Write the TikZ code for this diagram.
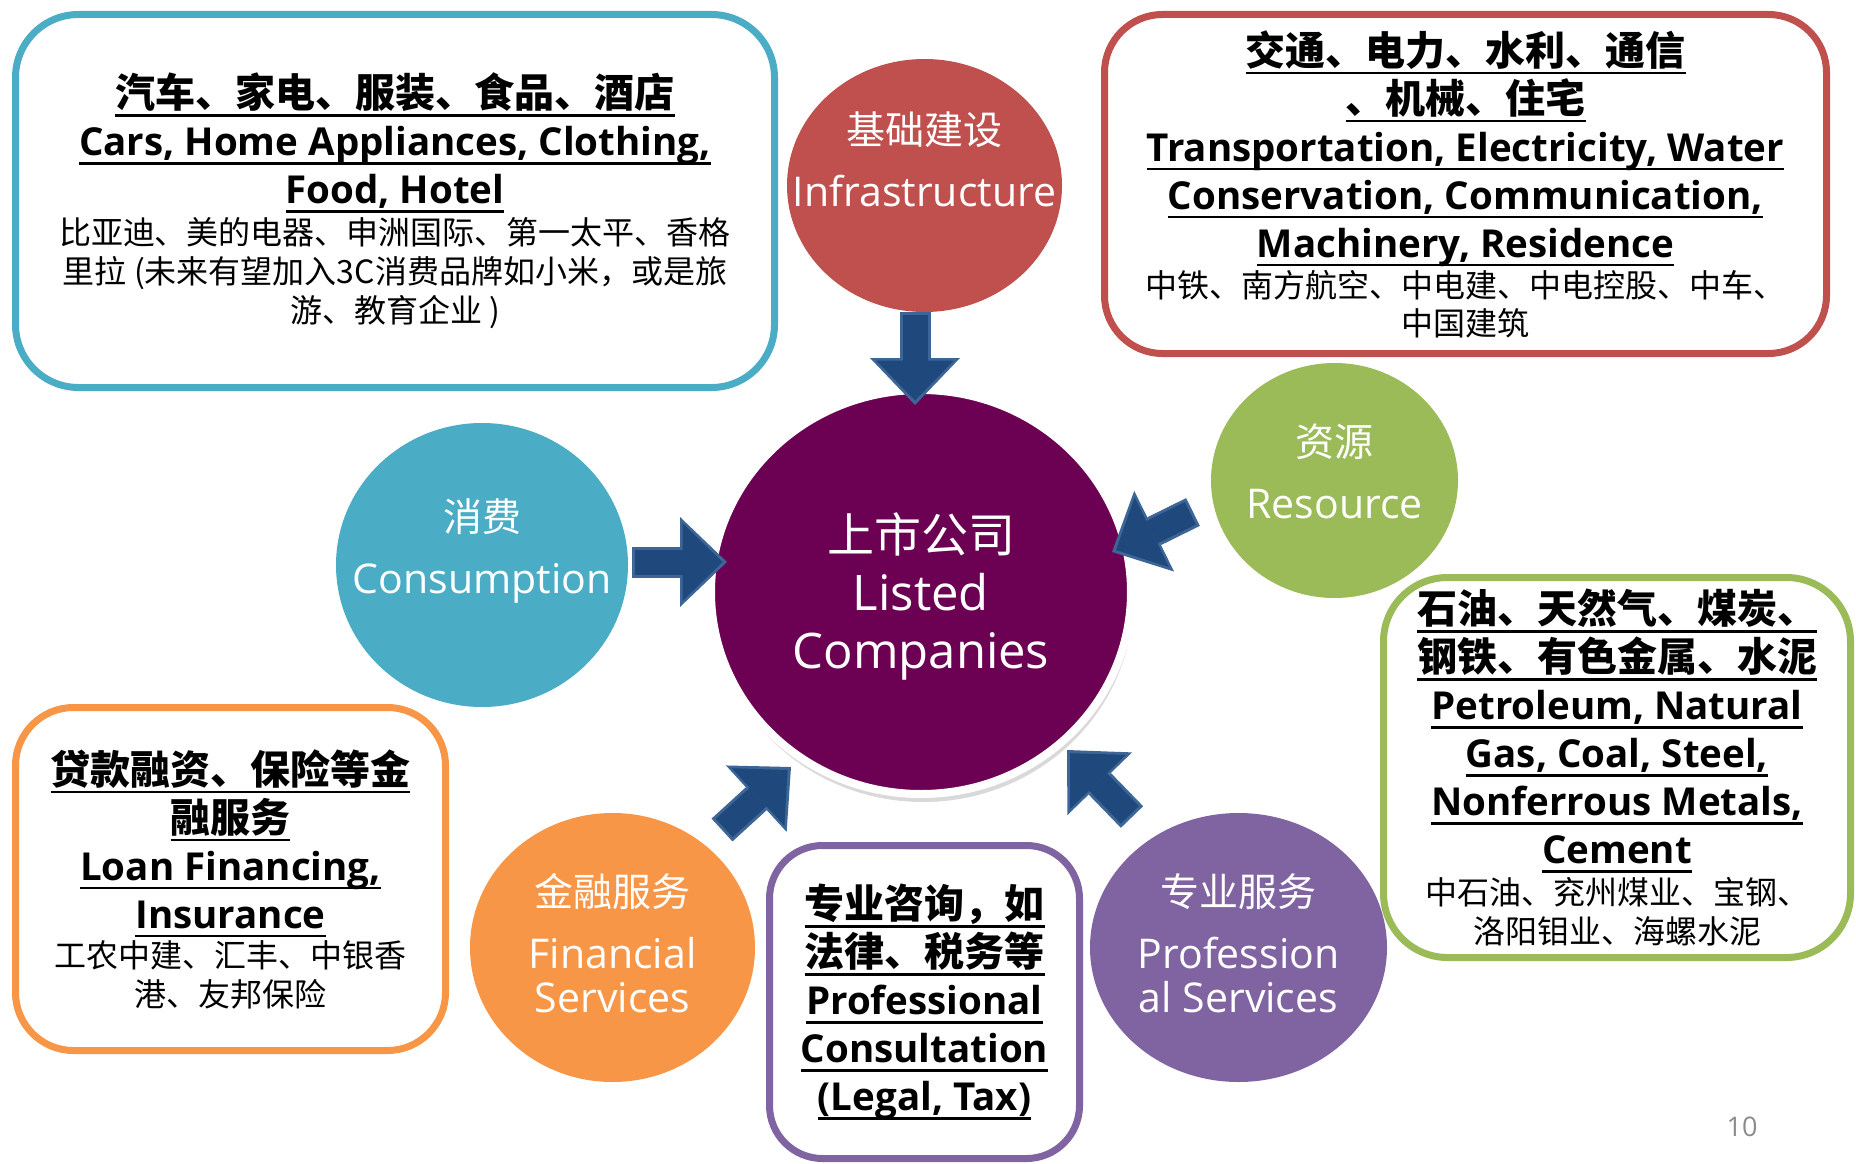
\documentclass[tikz,border=0pt]{standalone}
\usepackage{fontspec}
\setmainfont{Open Sans}
\newfontfamily\cjk{Noto Sans CJK SC}
\usetikzlibrary{shapes.geometric,shadows,arrows.meta}

\definecolor{consblue}{HTML}{4BACC6}
\definecolor{infrared}{HTML}{C0504D}
\definecolor{resgreen}{HTML}{9BBB59}
\definecolor{finorange}{HTML}{F79646}
\definecolor{profpurple}{HTML}{8064A2}
\definecolor{corepurple}{HTML}{6C0052}
\definecolor{arrowfill}{HTML}{1F497D}
\definecolor{arrowrim}{HTML}{3D6696}
\definecolor{pagegray}{HTML}{8C8C8C}

% one underlined line
\newcommand\ulrule[1]{\setbox0=\hbox{#1}\leavevmode\rlap{\rule[-9pt]{\wd0}{2.3pt}}\box0}
\newcommand\cnhead[1]{\ulrule{\cjk\bfseries #1}}
\newcommand\enhead[1]{\ulrule{\fontsize{38.5}{48}\selectfont\bfseries #1}}
\newcommand\cnbody[1]{{\cjk\fontsize{32}{39}\selectfont #1}}
\newcommand\cnlabel[1]{{\cjk\fontsize{39}{47}\selectfont #1}}

\begin{document}
\begin{tikzpicture}[x=1pt, y=-1pt,
    bubble/.style={ellipse, fill=#1, inner sep=0pt},
    bubbletext/.style={text=white, align=center, inner sep=0pt, font=\fontsize{41}{62}\selectfont},
    infobox/.style={draw=#1, line width=7pt, fill=white, align=center, inner sep=0pt,
        font=\fontsize{40}{48}\selectfont},
    arrowedge/.style={draw=arrowrim, line width=31pt,
        -{Triangle[width=90pt,length=47pt,line width=0pt]}},
    arrowbody/.style={draw=arrowfill, line width=25pt, shorten <=3pt, shorten >=4.5pt,
        -{Triangle[width=78pt,length=40pt,line width=0pt]}},
    pagenum/.style={text=pagegray, font=\fontsize{27}{32}\selectfont}]

\path[use as bounding box, fill=white] (0,0) rectangle (1856,1164);

% sectors round the centre
\node[bubble=infrared, minimum width=275pt, minimum height=253pt] (infra) at (924.5,185.5) {};
\node[bubble=consblue, minimum width=292pt, minimum height=284pt] (cons) at (482,565) {};
\node[bubble=resgreen, minimum width=247pt, minimum height=235pt] (res) at (1334.5,480.5) {};
\node[bubble=finorange, minimum width=285pt, minimum height=269pt] (fin) at (612.5,947.5) {};
\node[bubble=profpurple, minimum width=297pt, minimum height=269pt] (prof) at (1238.5,947.5) {};
\node[bubble=corepurple, draw=white, line width=8pt, minimum width=420pt, minimum height=404pt,
    drop shadow={shadow xshift=2pt, shadow yshift=-8pt, opacity=0.15, fill=black}] (core) at (921,592) {};

% detail boxes
\node[infobox=consblue, rounded corners=63pt, minimum width=759pt, minimum height=373pt] (consbox) at (395,201) {
    \cnhead{汽车、家电、服装、食品、酒店}\\
    \enhead{Cars, Home Appliances, Clothing,}\\
    \enhead{Food, Hotel}\\[-7pt]
    \cnbody{比亚迪、美的电器、申洲国际、第一太平、香格}\\[-9pt]
    \cnbody{里拉 (未来有望加入3C消费品牌如小米，或是旅}\\[-9pt]
    \cnbody{游、教育企业 )}};
\node[infobox=infrared, rounded corners=58pt, minimum width=722pt, minimum height=339pt] (infrabox) at (1465.5,184) {
    \cnhead{交通、电力、水利、通信}\\
    \cnhead{、机械、住宅}\\
    \enhead{Transportation, Electricity, Water}\\
    \enhead{Conservation, Communication,}\\
    \enhead{Machinery, Residence}\\[-8pt]
    \cnbody{中铁、南方航空、中电建、中电控股、中车、}\\[-10pt]
    \cnbody{中国建筑}};
\node[infobox=resgreen, rounded corners=64pt, minimum width=467pt, minimum height=380pt] (resbox) at (1617,767.5) {
    \cnhead{石油、天然气、煤炭、}\\
    \cnhead{钢铁、有色金属、水泥}\\
    \enhead{Petroleum, Natural}\\
    \enhead{Gas, Coal, Steel,}\\
    \enhead{Nonferrous Metals,}\\
    \enhead{Cement}\\[-7pt]
    \cnbody{中石油、兖州煤业、宝钢、}\\[-9pt]
    \cnbody{洛阳钼业、海螺水泥}};
\node[infobox=finorange, rounded corners=58pt, minimum width=430pt, minimum height=343pt] (finbox) at (230.5,879) {
    \cnhead{贷款融资、保险等金}\\
    \cnhead{融服务}\\
    \enhead{Loan Financing,}\\
    \enhead{Insurance}\\[-9pt]
    \cnbody{工农中建、汇丰、中银香}\\[-9pt]
    \cnbody{港、友邦保险}};
\node[infobox=profpurple, rounded corners=53pt, minimum width=310pt, minimum height=313pt] (profbox) at (924.5,1002) {
    \cnhead{专业咨询，如}\\
    \cnhead{法律、税务等}\\
    \enhead{Professional}\\
    \enhead{Consultation}\\
    \enhead{(Legal, Tax)}};

% block arrows into the centre
\coordinate (infra-out) at (915,312);
\coordinate (infra-in) at (915,405);
\coordinate (cons-out) at (632,562);
\coordinate (cons-in) at (727,562);
\coordinate (res-out) at (1193,512);
\coordinate (res-in) at (1112,552);
\coordinate (fin-out) at (722,830);
\coordinate (fin-in) at (791,767);
\coordinate (prof-out) at (1132,817);
\coordinate (prof-in) at (1067,750);
\foreach \src/\dst in {infra-out/infra-in, cons-out/cons-in, res-out/res-in, fin-out/fin-in, prof-out/prof-in}{
    \draw[arrowedge] (\src) -- (\dst);
    \draw[arrowbody] (\src) -- (\dst);
}

% labels
\node[bubbletext] (infra-txt) at ([yshift=26pt]infra.center) {\cnlabel{基础建设}\\Infrastructure};
\node[bubbletext] (cons-txt) at ([yshift=14pt]cons.center) {\cnlabel{消费}\\Consumption};
\node[bubbletext] (res-txt) at ([yshift=9.5pt]res.center) {\cnlabel{资源}\\Resource};
\node[bubbletext] (fin-txt) at ([yshift=4.5pt]fin.center) {\cnlabel{金融服务}\\Financial\\[-18pt]Services};
\node[bubbletext] (prof-txt) at ([yshift=4.5pt]prof.center) {\cnlabel{专业服务}\\Profession\\[-18pt]al Services};
\node[bubbletext, font=\fontsize{49}{58}\selectfont] (core-txt) at ([yshift=-4.5pt]core.center)
    {{\cjk\fontsize{47}{56}\selectfont 上市公司}\\Listed\\Companies};

\node[pagenum] (pageno) at (1742,1127) {10};

\end{tikzpicture}
\end{document}
